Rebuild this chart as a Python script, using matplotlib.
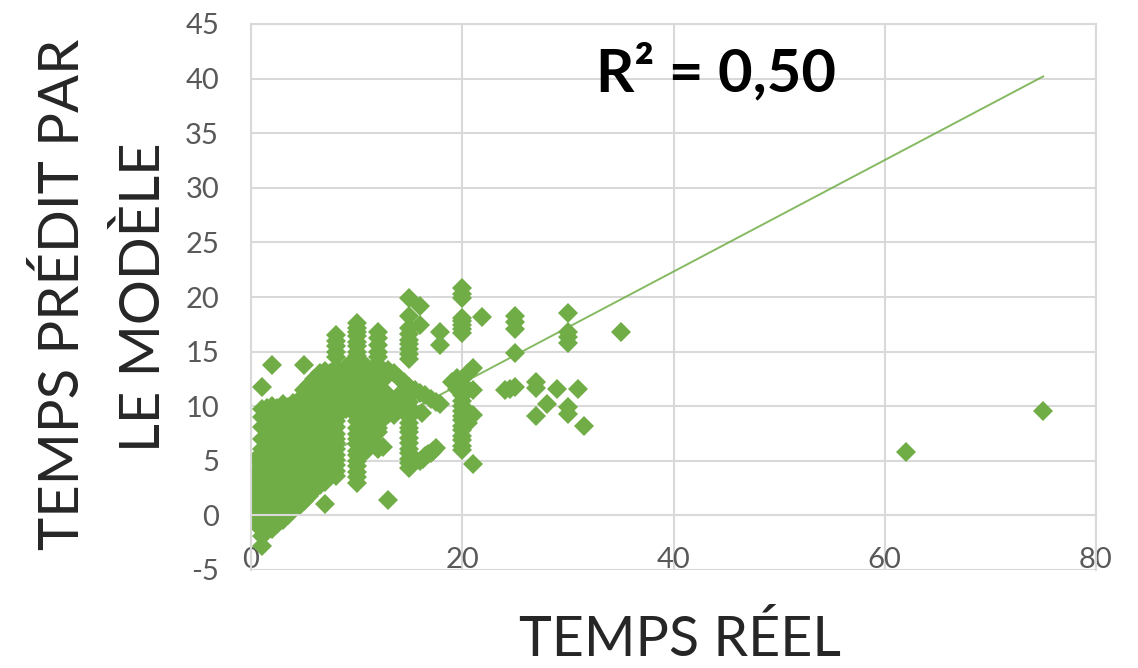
#!/usr/bin/env python3
import matplotlib
matplotlib.use("Agg")
import matplotlib.pyplot as plt

# dense part of the cloud, one list of y values per x
col_x = [0.5, 1.0, 1.5, 2.0, 2.5, 3.0, 3.5, 4.0, 4.5, 5.0, 5.5, 6.0, 6.5, 7.0, 7.5, 8.0, 8.5, 9.0, 9.5, 10.0,
         10.5, 11.0, 11.5, 12.0, 12.5, 13.0, 13.5, 14.0, 14.5, 15.0, 20.0, 20.5]
col_y = [
    [-0.8, 0.2, 1.1, 2.0, 3.1, 4.0, 5.2],
    [-2.8, -1.9, -0.9, 0.1, 1.0, 2.1, 3.0, 4.1, 5.0, 6.1, 7.0, 8.1, 9.0, 9.7, 11.8],
    [-1.4, -0.6, 0.0, 0.9, 2.0, 3.1, 4.0, 4.9, 6.0, 7.1, 8.0, 9.0, 9.8],
    [-1.2, -0.4, 0.5, 1.6, 2.5, 3.5, 4.6, 5.5, 6.5, 7.5, 8.6, 9.4, 10.0, 13.8],
    [-0.8, 0.2, 1.2, 2.1, 3.2, 4.1, 5.1, 6.2, 7.1, 8.1, 9.0, 9.8],
    [-0.4, 0.6, 1.5, 2.6, 3.5, 4.5, 5.6, 6.5, 7.6, 8.5, 9.5, 10.2],
    [0.0, 1.0, 2.1, 3.0, 4.0, 5.1, 6.0, 7.0, 8.1, 9.0, 9.9],
    [0.5, 1.5, 2.5, 3.6, 4.5, 5.5, 6.6, 7.5, 8.5, 9.6, 10.3],
    [0.9, 1.9, 3.0, 4.0, 5.0, 6.0, 7.1, 8.0, 9.0, 10.0, 10.6],
    [1.3, 2.3, 3.4, 4.3, 5.4, 6.4, 7.3, 8.4, 9.3, 10.4, 11.5, 13.8],
    [1.8, 2.8, 3.8, 4.8, 5.9, 6.8, 7.8, 8.9, 9.8, 10.9, 11.9],
    [2.3, 3.3, 4.2, 5.3, 6.3, 7.2, 8.3, 9.3, 10.2, 11.3, 12.5],
    [2.8, 3.8, 4.7, 5.8, 6.7, 7.8, 8.8, 9.7, 10.8, 11.9, 13.0],
    [1.0, 3.1, 4.1, 5.1, 6.2, 7.1, 8.2, 9.1, 10.2, 11.1, 12.2, 13.2],
    [3.6, 4.6, 5.6, 6.6, 7.7, 8.6, 9.6, 10.7, 11.6, 12.6, 13.0],
    [3.6, 4.1, 4.6, 5.1, 5.5, 6.1, 6.6, 7.0, 7.5, 8.1, 8.6, 9.0, 9.5, 10.1, 10.6, 11.0, 11.5, 12.0, 12.6, 13.0, 13.5, 14.5, 15.0, 15.5, 16.0, 16.5],
    [10.2, 11.1, 12.1, 13.0],
    [9.7, 10.6, 11.7, 12.6, 13.6],
    [9.9, 10.8, 11.8, 12.9, 14.0],
    [3.0, 3.5, 4.0, 4.5, 5.0, 5.5, 5.9, 6.5, 7.0, 7.5, 8.0, 8.6, 9.1, 9.5, 10.0, 10.5, 11.0, 11.6, 12.1, 12.5, 13.0, 13.6, 14.1, 14.6, 15.0, 15.5, 15.9, 16.4, 16.8, 17.2, 17.6],
    [5.6, 6.1, 6.5, 7.0, 7.4, 8.0, 8.5, 9.0, 9.4, 9.9, 10.3, 10.9, 11.4, 11.8, 12.3, 12.8, 13.2, 14.0],
    [6.0, 6.5, 7.0, 7.6, 8.1, 8.5, 9.0, 9.6, 10.1, 10.5, 11.0, 11.5, 12.0, 12.5, 13.0, 13.6],
    [6.9, 7.4, 7.9, 8.4, 8.9, 9.4, 9.9, 10.3, 10.8, 11.4, 11.9, 12.4, 12.8, 13.4],
    [6.1, 7.6, 8.0, 8.5, 9.0, 9.5, 10.0, 10.6, 11.1, 11.6, 12.1, 12.7, 13.4, 14.5, 15.0, 15.6, 16.2, 16.8],
    [6.3, 8.8, 9.2, 9.6, 10.1, 10.5, 11.0, 11.5, 12.4, 13.3],
    [1.4, 9.3, 9.8, 10.2, 10.6, 11.0, 13.3],
    [9.2, 10.0, 10.6, 13.0],
    [10.0, 11.0, 12.6],
    [10.5, 9.6, 12.2],
    [4.3, 4.8, 5.2, 5.7, 6.1, 6.6, 7.1, 7.6, 8.0, 8.5, 9.0, 9.4, 9.9, 10.4, 10.9, 11.3, 11.8, 14.3, 14.8, 15.2, 15.7, 16.1, 16.6, 17.2, 18.3, 19.9],
    [6.0, 6.4, 6.9, 7.3, 7.8, 8.2, 8.7, 9.1, 9.6, 10.0, 10.5, 11.0, 11.4, 12.0, 12.5, 16.7, 17.1, 17.4, 17.8, 18.1, 19.9, 20.3, 20.8],
    [8.5, 9.5, 11.5, 13.0],
]

# points that can be read one by one
pts_x = [15.5, 16, 16, 16, 16.2, 16, 16.3, 16.5, 16.8, 17, 17.2, 17.5, 16.5, 17, 17.5, 17.9, 17.9, 17.9, 19, 19.5, 19.5, 21, 21, 21, 21,
         21.9, 24, 24.5, 25, 25, 25, 25, 25, 27, 27, 27, 28, 29, 30, 30, 30, 30, 30, 30, 31, 31.5, 35, 62, 75]
pts_y = [11.5, 19.2, 17.4, 11.2, 9.4, 5.0, 5.2, 5.4, 5.6, 5.7, 5.9, 6.2, 11.0, 10.7, 10.4, 10.2, 16.8, 15.6, 12.2, 12.6, 11.6, 13.5, 11.5, 9.2, 4.7,
         18.2, 11.5, 11.6, 18.3, 17.7, 17.1, 14.9, 11.8, 12.2, 11.7, 9.1, 10.2, 11.6, 18.5, 16.8, 16.3, 15.8, 9.9, 9.3, 11.6, 8.2, 16.8, 5.8, 9.6]

# trend line ends
line_x = [0, 75]
line_y = [1.9, 40.2]

x_ticks = [0, 20, 40, 60, 80]
y_ticks = [-5, 0, 5, 10, 15, 20, 25, 30, 35, 40, 45]

green = "#70AD47"
grey = "#D9D9D9"

plt.rcParams["font.family"] = "Lato"
plt.rcParams["axes.unicode_minus"] = False

fig = plt.figure(figsize=(11.38, 6.68), dpi=100)
ax = fig.add_axes([251 / 1138, 1 - 570 / 668, (1096 - 251) / 1138, (570 - 24) / 668])

all_x = []
all_y = []
for x, ys in zip(col_x, col_y):
    all_x += [x] * len(ys)
    all_y += ys
all_x += pts_x
all_y += pts_y

ax.plot(all_x, all_y, "D", color=green, markersize=9.8, markeredgewidth=0)
ax.plot(line_x, line_y, color=green, linewidth=1.4, alpha=0.85)

ax.set_xlim(0, 80)
ax.set_ylim(-5, 45)
ax.set_xticks(x_ticks)
ax.set_yticks(y_ticks)
ax.grid(True, color=grey, linewidth=1.5)
ax.set_axisbelow(True)

# x labels hang off the y=0 line like in Excel
ax.spines["bottom"].set_position(("data", 0))
for s in ax.spines.values():
    s.set_color(grey)
    s.set_linewidth(1.5)
ax.tick_params(length=0, labelsize=21, labelcolor="#595959", pad=23)
ax.tick_params(axis="x", pad=23)

fig.text(716 / 1138, 1 - 72 / 668, "R² = 0,50", fontsize=43, fontweight="bold", color="black", ha="center", va="center")
fig.text(680 / 1138, 1 - 640 / 668, "TEMPS RÉEL", fontsize=40, color="#262626", ha="center", va="center")
fig.text(63 / 1138, 1 - 294 / 668, "TEMPS PRÉDIT PAR", fontsize=40.5, color="#262626", rotation=90, ha="center", va="center")
fig.text(144 / 1138, 1 - 297 / 668, "LE MODÈLE", fontsize=40.5, color="#262626", rotation=90, ha="center", va="center")

fig.savefig("out.png", dpi=100)
